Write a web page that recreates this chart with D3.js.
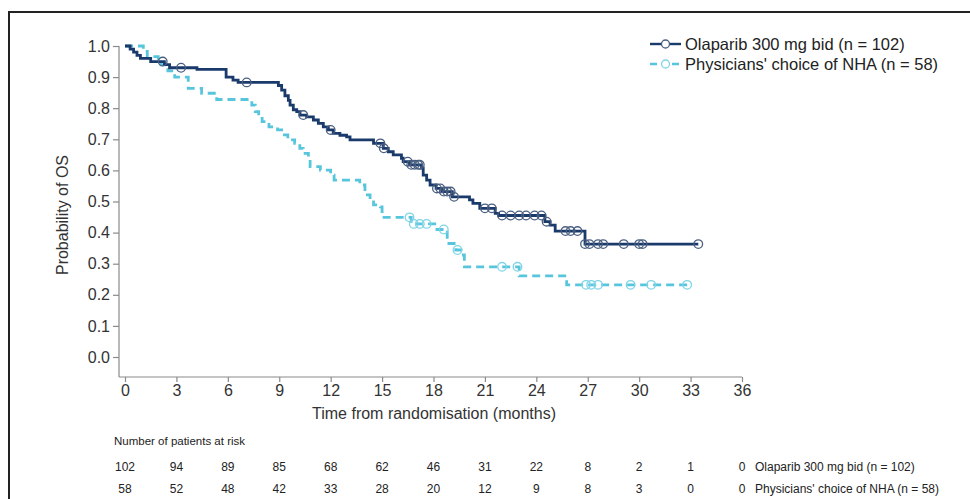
<!DOCTYPE html>
<html><head><meta charset="utf-8">
<script src="https://cdn.jsdelivr.net/npm/d3@7"></script>
<style>
body{margin:0;background:#fff;}
svg{display:block;}
</style></head>
<body>
<svg id="chart" width="970" height="499"></svg>
<script>
// ---- Data ----
const seriesNames = ["Olaparib 300 mg bid (n = 102)", "Physicians' choice of NHA (n = 58)"];
const olaTimes = [0,0.3,0.5,0.7,0.9,1.5,2.3,2.6,4.2,5.9,6.3,6.6,8.95,9.14,9.33,9.53,9.63,9.82,10.02,10.21,10.6,10.99,11.28,11.57,11.86,12.15,12.54,12.93,13.13,14.5,15.07,15.36,15.65,16.13,16.23,16.6,17.3,17.4,17.6,17.8,18.15,18.5,19.1,20.1,20.3,20.7,21.6,21.8,24.5,24.8,25.1,26.84,33.45];
const olaSurv  = [1.0,0.99,0.98,0.97,0.96,0.95,0.94,0.93,0.925,0.90,0.89,0.883,0.873,0.858,0.84,0.825,0.81,0.795,0.789,0.778,0.772,0.762,0.751,0.74,0.73,0.719,0.713,0.708,0.698,0.687,0.671,0.66,0.65,0.639,0.628,0.618,0.607,0.585,0.569,0.553,0.542,0.532,0.515,0.505,0.494,0.478,0.462,0.455,0.435,0.424,0.405,0.363,0.363];
const olaCensor = [2.2,3.27,7.1,10.4,12.0,14.9,15.1,16.5,16.7,16.9,17.1,17.2,18.2,18.4,18.6,18.8,19.0,19.2,21.0,21.4,22.0,22.5,23.0,23.4,23.9,24.3,24.6,25.7,26.0,26.4,26.84,27.1,27.6,27.9,29.1,30.0,30.2,33.45];

const nhaTimes = [0,1.07,1.3,1.94,2.1,2.5,2.9,3.69,4.47,5.35,7.4,7.6,7.8,8.0,8.4,8.9,9.14,9.5,9.9,10.2,10.4,10.7,10.8,11.4,12.0,12.2,13.7,14.0,14.3,14.5,14.9,15.0,16.7,18.2,18.8,19.3,19.6,19.8,23.0,25.77,32.8];
const nhaSurv  = [1.0,0.983,0.966,0.948,0.939,0.92,0.9,0.864,0.848,0.828,0.81,0.789,0.773,0.757,0.74,0.73,0.714,0.698,0.687,0.671,0.655,0.639,0.612,0.601,0.585,0.569,0.553,0.521,0.505,0.489,0.483,0.449,0.428,0.41,0.365,0.344,0.328,0.29,0.261,0.232,0.232];
const nhaCensor = [16.6,16.85,17.2,17.6,18.6,19.4,22.0,22.9,26.9,27.2,27.6,29.5,30.7,32.8];

const xTicks = [0,3,6,9,12,15,18,21,24,27,30,33,36];
const yTicks = [0,0.1,0.2,0.3,0.4,0.5,0.6,0.7,0.8,0.9,1.0];
const olaAtRisk = [102,94,89,85,68,62,46,31,22,8,2,1,0];
const nhaAtRisk = [58,52,48,42,33,28,20,12,9,8,3,0,0];

const colors = ["#1a3a6c", "#57c6dd"];
const circleColors = ["#4a5f80", "#7fd4e6"];

// ---- Chart ----
const svg = d3.select("#chart");
const font = "'Liberation Sans', Arial, sans-serif";
const narrow = "'Liberation Sans Narrow', 'Arial Narrow', 'Liberation Sans', sans-serif";

// frame
svg.append("rect").attr("x",9).attr("y",12).attr("width",1000).attr("height",600)
  .attr("fill","none").attr("stroke","#222").attr("stroke-width",2);

const x = d3.scaleLinear().domain([0,36]).range([125,742]);
const y = d3.scaleLinear().domain([0,1]).range([357,46]);

const axisColor = "#8a8a8a";
// y axis
const gy = svg.append("g").attr("transform","translate(119,0)")
  .call(d3.axisLeft(y).tickValues(yTicks).tickFormat(d3.format(".1f")).tickSize(6).tickSizeOuter(0));
gy.select(".domain").remove();
svg.append("line").attr("x1",119).attr("x2",119).attr("y1",y(1)).attr("y2",377).attr("stroke",axisColor).attr("stroke-width",1.2);
// x axis
const gx = svg.append("g").attr("transform","translate(0,377)")
  .call(d3.axisBottom(x).tickValues(xTicks).tickFormat(d3.format("d")).tickSize(5).tickSizeOuter(0));
gx.select(".domain").remove();
svg.append("line").attr("x1",119).attr("x2",x(36)).attr("y1",377).attr("y2",377).attr("stroke",axisColor).attr("stroke-width",1.2);

[gx,gy].forEach(g=>{
  g.attr("font-size",16).attr("font-family",font);
  g.selectAll(".tick line").attr("stroke",axisColor).attr("stroke-width",1.2);
  g.selectAll(".tick text").attr("fill","#333").attr("font-size",16).attr("font-family",font);
});
gy.selectAll(".tick text").attr("x",-9);
gx.selectAll(".tick text").attr("y",8);

// axis titles
svg.append("text").attr("x",434).attr("y",419).attr("text-anchor","middle")
  .attr("font-family",font).attr("font-size",16).attr("fill","#333")
  .text("Time from randomisation (months)");
svg.append("text").attr("transform","translate(68,215) rotate(-90)").attr("text-anchor","middle")
  .attr("font-family",font).attr("font-size",16).attr("fill","#333")
  .text("Probability of OS");

// curves
const line = d3.line().x(d=>x(d[0])).y(d=>y(d[1])).curve(d3.curveStepAfter);
function stepVal(times, surv, t){
  let v = surv[0];
  for(let i=0;i<times.length;i++){ if(times[i]<=t) v = surv[i]; }
  return v;
}
const series = [
  {times:olaTimes, surv:olaSurv, cens:olaCensor, dash:null},
  {times:nhaTimes, surv:nhaSurv, cens:nhaCensor, dash:"8,5"}
];
[1,0].forEach(i=>{
  const s = series[i];
  const pts = s.times.map((t,j)=>[t,s.surv[j]]);
  svg.append("path").datum(pts).attr("d",line).attr("fill","none")
    .attr("stroke",colors[i]).attr("stroke-width",2.8)
    .attr("stroke-dasharray",s.dash);
  svg.append("g").selectAll("circle").data(s.cens).join("circle")
    .attr("cx",d=>x(d)).attr("cy",d=>y(stepVal(s.times,s.surv,d)))
    .attr("r",4.3).attr("fill","none").attr("stroke",circleColors[i]).attr("stroke-width",1.3);
});

// legend
const leg = svg.append("g");
seriesNames.forEach((name,i)=>{
  const ly = 44 + i*20;
  leg.append("line").attr("x1",650).attr("x2",681).attr("y1",ly).attr("y2",ly)
    .attr("stroke",colors[i]).attr("stroke-width",2.4).attr("stroke-dasharray", i===1 ? "7,4" : null);
  leg.append("circle").attr("cx",665.5).attr("cy",ly).attr("r",4).attr("fill","#fff")
    .attr("stroke",circleColors[i]).attr("stroke-width",1.3);
  leg.append("text").attr("x",685).attr("y",ly+6).attr("font-family",font).attr("font-size",16.5)
    .attr("fill","#222").text(name);
});

// risk table
svg.append("text").attr("x",114).attr("y",445).attr("font-family",narrow).attr("font-size",11.5)
  .attr("fill","#222").text("Number of patients at risk");
[olaAtRisk, nhaAtRisk].forEach((arr,i)=>{
  const ry = 471 + i*22;
  svg.append("g").selectAll("text").data(arr).join("text")
    .attr("x",(d,j)=>x(xTicks[j])).attr("y",ry).attr("text-anchor","middle")
    .attr("font-family",narrow).attr("font-size",12).attr("fill","#222").text(d=>d);
  svg.append("text").attr("x",755).attr("y",ry).attr("font-family",narrow).attr("font-size",12)
    .attr("fill","#222").text(seriesNames[i]);
});
</script>
</body></html>
